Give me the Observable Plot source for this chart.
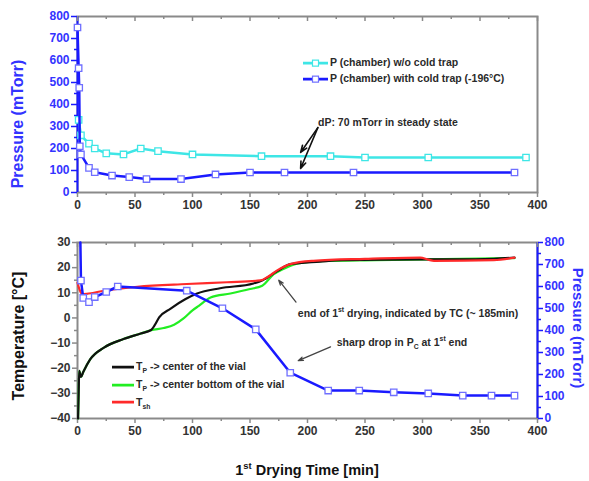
<!DOCTYPE html>
<html><head><meta charset="utf-8">
<script src="https://cdn.jsdelivr.net/npm/d3@7"></script>
<script src="https://cdn.jsdelivr.net/npm/@observablehq/plot@0.6"></script>
<style>
body{margin:0;background:#fff;}
#wrap{position:relative;width:589px;height:481px;overflow:hidden;font-family:"Liberation Sans",Arial,sans-serif;background:#fff;}
.abs{position:absolute;white-space:nowrap;line-height:1;}
.ann{font-size:10.5px;font-weight:bold;color:#2a2a2a;}
sub,sup{font-size:65%;line-height:0;}
</style></head><body><div id="wrap"></div>
<script>
// ---------- data ----------
// top panel: chamber pressure (mTorr) vs time (min)
const noTrapTime = [1, 3, 10, 15, 25, 40, 55, 70, 100, 160, 220, 250, 305, 390];
const noTrapP    = [330, 260, 222, 200, 178, 173, 200, 188, 173, 165, 165, 159, 159, 159];
const trapTime   = [0, 1, 1.5, 2, 3, 10, 15, 30, 45, 60, 90, 120, 150, 180, 240, 380];
const trapP      = [750, 565, 476, 210, 173, 112, 92, 77, 70, 61, 61, 82, 91, 91, 91, 91];

// bottom panel: temperatures (°C) vs time
const tpCenterTime = [0.5, 1, 1.5, 3, 5, 11, 23, 40, 55, 64, 67, 71, 81, 94, 104, 124, 153, 161, 174, 185, 211, 230, 298, 330, 362, 380];
const tpCenterT    = [-40, -30, -21, -23.5, -21.5, -16.5, -11.8, -8.4, -6.2, -4.8, -3, 0.2, 3.7, 7.5, 9.7, 11.8, 13.7, 15, 18.7, 21.4, 22.4, 23, 23.3, 23.3, 23.5, 24];
const tpBottomTime = [0.5, 1, 1.5, 3, 5, 11, 23, 40, 55, 64, 75, 84, 92.5, 100, 105.5, 115.7, 133, 150, 160.6, 170.7, 179, 190, 211, 260, 380];
const tpBottomT    = [-40, -30, -21, -23.5, -21.5, -16.5, -11.8, -8.4, -6.2, -4.9, -4, -2.7, -0.1, 3, 4.8, 8.1, 9.7, 11.5, 12.8, 17.4, 19.5, 21.5, 22.6, 23, 23.8];
const tshTime      = [0, 2, 4, 8, 23, 52, 95, 130, 159, 166, 174, 185, 205, 250, 298, 305, 310, 362, 380];
const tshT         = [14, 11, 9.5, 9.6, 10.8, 12.4, 13.5, 14.2, 14.9, 16.5, 19, 21.4, 22.7, 23.5, 24, 23.2, 22.7, 23, 24];
// bottom panel: chamber pressure (right axis, mTorr)
const pcTime = [2.5, 3, 5, 10, 15, 25, 35, 95, 126, 155, 185, 218, 245, 275, 305, 335, 360, 380];
const pcP    = [800, 627, 548, 529, 552, 575, 600, 581, 501, 405, 208, 127, 127, 119, 114, 104, 104, 104];

// ticks
const xTicks = [0, 50, 100, 150, 200, 250, 300, 350, 400];
const xMinor = [25, 75, 125, 175, 225, 275, 325, 375];
const pTicks = [0, 100, 200, 300, 400, 500, 600, 700, 800];
const pMinor = [50, 150, 250, 350, 450, 550, 650, 750];
const tTicks = [30, 20, 10, 0, -10, -20, -30, -40];
const tMinor = [25, 15, 5, -5, -15, -25, -35];

// annotations
const topArrowFrom = [[209, 295], [209, 295]];
const topArrowTo   = [[194, 182], [194, 109]];
const topNote = {x: 209.6, y: 318, text: "dP: 70 mTorr in steady state"};
const botArrowFrom = [[190, 6.3], [220, -11.5]];
const botArrowTo   = [[175, 15], [192, -17]];
const botNotes = [
  {x: 192, y: 1.6, html: "end of 1<sup>st</sup> drying, indicated by TC (~ 185min)"},
  {x: 225.8, y: -9.8, html: "sharp drop in P<sub>C</sub> at 1<sup>st</sup> end"}
];

// ---------- styles ----------
const CYAN = "#3ee6e6", BLUE = "#1a1aff", BLUE_MK = "#6f6fff", LBLUE = "#3333ff";
const GREEN = "#22ee22", RED = "#ff2a2a", BLACK = "#111";
const FRAME = "#8a8a8a";
const font = "'Liberation Sans', Arial, sans-serif";
const wrap = document.getElementById("wrap");

// ---------- top panel ----------
const topH = 225, topMT = 16, topMB = 33;
const topInner = topH - topMT - topMB;
const topChart = Plot.plot({
  width: 589, height: topH, marginLeft: 77, marginRight: 52, marginTop: topMT, marginBottom: topMB,
  x: {domain: [0, 400]}, y: {domain: [0, 800]},
  style: {fontFamily: font, fontSize: "12px", fontWeight: "bold", background: "transparent", overflow: "visible"},
  marks: [
    Plot.frame({stroke: FRAME, strokeWidth: 2}),
    Plot.ruleX([0], {stroke: BLUE, strokeWidth: 2}),
    Plot.axisX(xTicks, {anchor: "bottom", tickSize: 5, tickPadding: 3, label: null, color: "#333", stroke: FRAME, strokeWidth: 1.5}),
    Plot.axisX(xMinor, {anchor: "bottom", tickSize: 3, tickFormat: () => "", label: null, stroke: FRAME, strokeWidth: 1.5}),
    Plot.tickX(xTicks, {x: d => d, insetBottom: topInner - 5, stroke: FRAME, strokeWidth: 1.5}),
    Plot.tickX(xMinor, {x: d => d, insetBottom: topInner - 3, stroke: FRAME, strokeWidth: 1.5}),
    Plot.axisY(pTicks, {anchor: "left", tickSize: 6, tickPadding: 2, label: null, color: LBLUE, stroke: BLUE, strokeWidth: 1.5}),
    Plot.axisY(pMinor, {anchor: "left", tickSize: 3, tickFormat: () => "", label: null, stroke: BLUE, strokeWidth: 1.5}),
    Plot.line(noTrapTime, {x: noTrapTime, y: noTrapP, stroke: CYAN, strokeWidth: 2.5}),
    Plot.dot(noTrapTime, {x: noTrapTime, y: noTrapP, symbol: "square", r: 3.6, fill: "white", stroke: CYAN, strokeWidth: 1.3}),
    Plot.line(trapTime, {x: trapTime, y: trapP, stroke: BLUE, strokeWidth: 2.5}),
    Plot.dot(trapTime, {x: trapTime, y: trapP, symbol: "square", r: 3.6, fill: "white", stroke: BLUE_MK, strokeWidth: 1.3}),
    Plot.arrow(topArrowFrom, {x1: d => d[0], y1: d => d[1], x2: (d, i) => topArrowTo[i][0], y2: (d, i) => topArrowTo[i][1], stroke: "#111", strokeWidth: 1.6, headLength: 7, headAngle: 40, bend: 0})
  ]
});
topChart.style.position = "absolute"; topChart.style.left = "0px"; topChart.style.top = "0px";
wrap.append(topChart);

// ---------- bottom panel ----------
const p2t = p => -40 + p * 70 / 800;
const t2p = t => Math.round((t + 40) * 800 / 70);
const botTop = 225, botH = 256, botMT = 17, botMB = 63;
const botInner = botH - botMT - botMB;
const botChart = Plot.plot({
  width: 589, height: botH, marginLeft: 77, marginRight: 52, marginTop: botMT, marginBottom: botMB,
  x: {domain: [0, 400]}, y: {domain: [-40, 30]},
  style: {fontFamily: font, fontSize: "12px", fontWeight: "bold", background: "transparent", overflow: "visible"},
  marks: [
    Plot.frame({stroke: FRAME, strokeWidth: 2}),
    Plot.ruleX([400], {stroke: BLUE, strokeWidth: 2}),
    Plot.axisX(xTicks, {anchor: "bottom", tickSize: 5, tickPadding: 3, label: null, color: "#333", stroke: FRAME, strokeWidth: 1.5}),
    Plot.axisX(xMinor, {anchor: "bottom", tickSize: 3, tickFormat: () => "", label: null, stroke: FRAME, strokeWidth: 1.5}),
    Plot.tickX(xTicks, {x: d => d, insetBottom: botInner - 5, stroke: FRAME, strokeWidth: 1.5}),
    Plot.tickX(xMinor, {x: d => d, insetBottom: botInner - 3, stroke: FRAME, strokeWidth: 1.5}),
    Plot.axisY(tTicks, {anchor: "left", tickSize: 5, tickPadding: 2, label: null, color: "#333", stroke: FRAME, strokeWidth: 1.5}),
    Plot.axisY(tMinor, {anchor: "left", tickSize: 3, tickFormat: () => "", label: null, stroke: FRAME, strokeWidth: 1.5}),
    Plot.axisY(pTicks.map(p2t), {anchor: "right", tickSize: 5, tickPadding: 2, tickFormat: t2p, label: null, color: LBLUE, stroke: BLUE, strokeWidth: 1.5}),
    Plot.axisY(pMinor.map(p2t), {anchor: "right", tickSize: 3, tickFormat: () => "", label: null, stroke: BLUE, strokeWidth: 1.5}),
    Plot.line(tpBottomTime, {x: tpBottomTime, y: tpBottomT, stroke: GREEN, strokeWidth: 2.2, curve: "monotone-x"}),
    Plot.line(tpCenterTime, {x: tpCenterTime, y: tpCenterT, stroke: BLACK, strokeWidth: 2.2, curve: "monotone-x"}),
    Plot.line(tshTime, {x: tshTime, y: tshT, stroke: RED, strokeWidth: 2.2, curve: "monotone-x"}),
    Plot.line(pcTime, {x: pcTime, y: pcP.map(p2t), stroke: BLUE, strokeWidth: 2.5}),
    Plot.dot(pcTime.slice(1), {x: pcTime.slice(1), y: pcP.slice(1).map(p2t), symbol: "square", r: 3.6, fill: "white", stroke: BLUE_MK, strokeWidth: 1.3}),
    Plot.arrow(botArrowFrom, {x1: d => d[0], y1: d => d[1], x2: (d, i) => botArrowTo[i][0], y2: (d, i) => botArrowTo[i][1], stroke: "#444", strokeWidth: 1.3, headLength: 6, headAngle: 40, bend: 0})
  ]
});
botChart.style.position = "absolute"; botChart.style.left = "0px"; botChart.style.top = botTop + "px";
wrap.append(botChart);

// ---------- text overlays ----------
function addDiv(html, left, topPx, cls, extra) {
  const d = document.createElement("div");
  d.className = "abs " + (cls || "");
  d.innerHTML = html;
  d.style.left = left + "px"; d.style.top = topPx + "px";
  Object.assign(d.style, extra || {});
  wrap.append(d);
  return d;
}
const tx = topChart.scale("x"), ty = topChart.scale("y");
addDiv(topNote.text, tx.apply(topNote.x), ty.apply(topNote.y), "ann", {transform: "translateY(-50%)"});
const bx = botChart.scale("x"), by = botChart.scale("y");
botNotes.forEach(n => addDiv(n.html, bx.apply(n.x), botTop + by.apply(n.y), "ann", {transform: "translateY(-50%)"}));

const titleStyle = {fontSize: "16px", fontWeight: "bold"};
addDiv("Pressure (mTorr)", 18, 124, "", Object.assign({color: LBLUE, transform: "translate(-50%,-50%) rotate(-90deg)"}, titleStyle));
addDiv("Temperature [°C]", 19, 336, "", Object.assign({color: "#111", transform: "translate(-50%,-50%) rotate(-90deg)"}, titleStyle));
addDiv("Pressure (mTorr)", 578, 328, "", {color: LBLUE, transform: "translate(-50%,-50%) rotate(90deg)", fontSize: "15px", fontWeight: "bold"});
addDiv("1<sup>st</sup> Drying Time [min]", 307, 470, "", {color: "#111", transform: "translate(-50%,-50%)", fontSize: "14.5px", fontWeight: "bold"});

function swatch(color, mk, w) {
  return `<svg width="${w}" height="9" style="vertical-align:middle;margin-right:2px"><line x1="0" y1="4.5" x2="${w}" y2="4.5" stroke="${color}" stroke-width="2.8"/>` +
    (mk ? `<rect x="${w/2-3}" y="1.5" width="6" height="6" fill="white" stroke="${mk}" stroke-width="1.2"/>` : "") + `</svg>`;
}
const topLegend = [["P (chamber) w/o cold trap", CYAN, CYAN], ["P (chamber) with cold trap (-196°C)", BLUE, BLUE_MK]];
topLegend.forEach((l, i) => addDiv(swatch(l[1], l[2], 25) + l[0], 303, 62 + i * 16, "ann", {transform: "translateY(-50%)"}));
const botLegend = [["T<sub>P</sub> -&gt; center of the vial", BLACK], ["T<sub>P</sub> -&gt; center bottom of the vial", GREEN], ["T<sub>sh</sub>", RED]];
botLegend.forEach((l, i) => addDiv(swatch(l[1], null, 22) + l[0], 112, 366 + i * 17.8, "ann", {transform: "translateY(-50%)"}));
</script>
</body></html>
